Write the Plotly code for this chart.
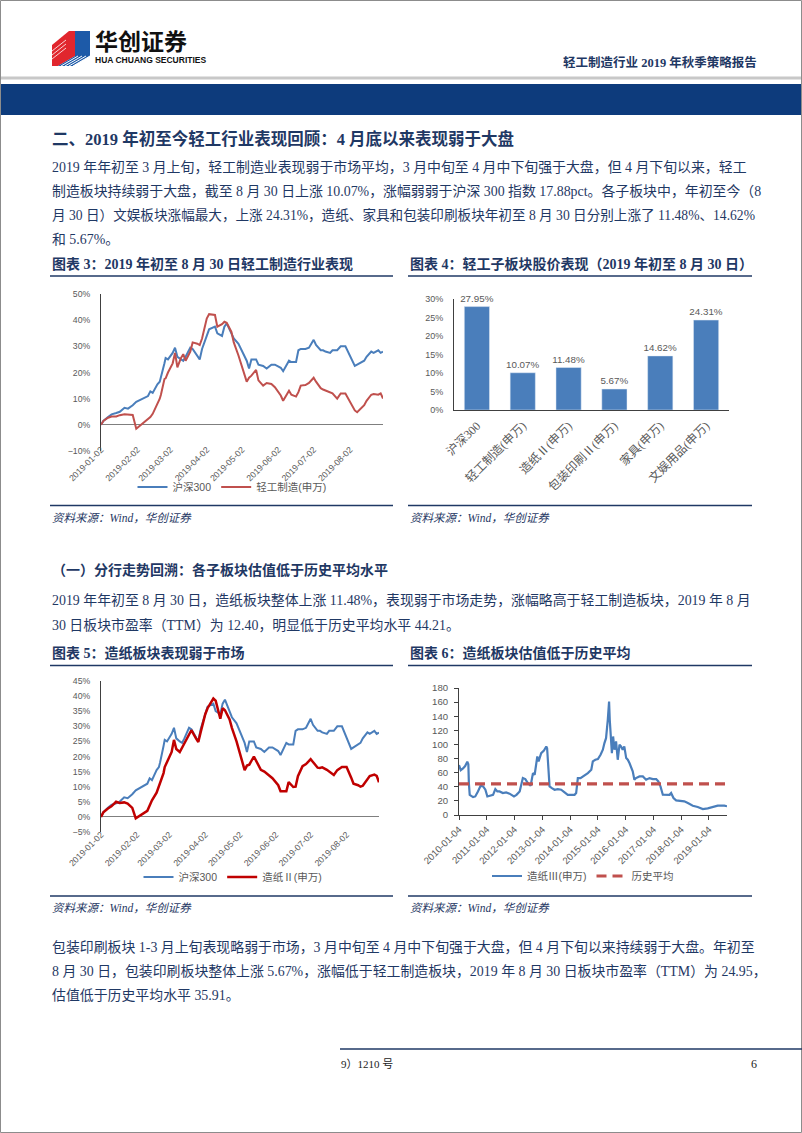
import plotly.graph_objects as go

W, H = 802, 1133

# ---------------- data ----------------
trade_dates = ['2019-01-02', '2019-01-04', '2019-01-08', '2019-01-11', '2019-01-15', '2019-01-18', '2019-01-22',
               '2019-01-25', '2019-01-29', '2019-02-01', '2019-02-11', '2019-02-13', '2019-02-15', '2019-02-19',
               '2019-02-21', '2019-02-22', '2019-02-25', '2019-02-26', '2019-02-28', '2019-03-04', '2019-03-06',
               '2019-03-08', '2019-03-11', '2019-03-13', '2019-03-15', '2019-03-19', '2019-03-21', '2019-03-25',
               '2019-03-27', '2019-03-29', '2019-04-02', '2019-04-04', '2019-04-09', '2019-04-11', '2019-04-15',
               '2019-04-17', '2019-04-19', '2019-04-23', '2019-04-25', '2019-04-29', '2019-05-06', '2019-05-08',
               '2019-05-10', '2019-05-14', '2019-05-16', '2019-05-20', '2019-05-23', '2019-05-27', '2019-05-30',
               '2019-06-04', '2019-06-06', '2019-06-11', '2019-06-13', '2019-06-17', '2019-06-19', '2019-06-21',
               '2019-06-25', '2019-06-28', '2019-07-02', '2019-07-04', '2019-07-08', '2019-07-10', '2019-07-12',
               '2019-07-16', '2019-07-18', '2019-07-22', '2019-07-25', '2019-07-29', '2019-07-31', '2019-08-02',
               '2019-08-06', '2019-08-08', '2019-08-12', '2019-08-14', '2019-08-16', '2019-08-20', '2019-08-22',
               '2019-08-26', '2019-08-28', '2019-08-30']

hs300 = [0, 1.5, 3.0, 4.0, 4.5, 5.0, 6.5, 6.2, 7.5, 8.8,
         11.0, 12.8, 12.2, 15.5, 16.5, 18.0, 23.5, 25.5, 25.0,
         27.5, 29.5, 26.0, 25.0, 24.5, 26.0, 29.5, 29.0, 26.0, 25.0, 29.0,
         34.0, 36.5, 37.5, 35.0, 34.0, 37.5, 38.8, 35.0, 33.0, 31.0,
         24.5, 21.5, 25.0, 25.0, 23.0, 22.5, 21.5, 23.0, 23.0,
         21.8, 20.5, 24.5, 24.0, 24.0, 28.5, 29.0, 29.0, 29.5,
         32.5, 30.5, 28.5, 28.5, 28.0, 27.5, 28.5, 28.5, 30.0, 30.0, 28.0,
         26.5, 22.5, 23.0, 24.0, 24.5, 26.0, 28.0, 27.5, 28.5, 27.5, 27.95]

light_mfg = [0, 1.5, 2.7, 3.2, 3.2, 3.7, 4.0, 3.8, 3.8, -1.5,
             2.0, 3.0, 4.2, 7.8, 10.0, 11.5, 17.5, 17.8, 20.0,
             23.5, 27.5, 22.0, 25.5, 27.0, 24.5, 28.0, 31.5, 31.0, 30.5, 33.0,
             40.6, 42.3, 42.0, 37.5, 38.5, 39.4, 39.0, 35.5, 31.5, 26.5,
             16.5, 18.0, 18.8, 21.0, 17.0, 15.0, 16.0, 15.6, 14.4,
             11.2, 9.2, 13.0, 11.5, 10.8, 12.5, 15.0, 15.2, 16.0,
             18.0, 16.5, 14.0, 13.5, 13.1, 12.4, 12.0, 10.0, 12.0, 12.0, 10.5,
             9.0, 5.5, 4.8, 6.5, 7.5, 9.2, 11.5, 11.8, 11.5, 12.0, 10.07]

paper2 = [0, 1.5, 2.8, 3.5, 5.0, 4.6, 4.8, 4.4, 3.0, -0.5,
          2.0, 4.0, 5.5, 8.0, 10.0, 11.0, 14.5, 16.5, 18.0,
          21.5, 25.5, 22.5, 21.5, 23.0, 24.5, 27.5, 28.7, 26.0, 24.8, 28.0,
          34.0, 36.0, 39.2, 38.5, 32.5, 36.0, 35.3, 32.3, 29.5, 25.0,
          15.5, 17.0, 17.3, 20.0, 18.5, 15.6, 15.0, 13.8, 12.8,
          10.5, 8.5, 8.5, 11.5, 9.9, 10.0, 13.5, 16.8, 17.5,
          19.1, 18.2, 16.3, 16.2, 16.4, 15.6, 15.0, 13.9, 15.5, 16.5, 16.5,
          16.5, 13.0, 11.0, 10.5, 10.0, 10.3, 12.5, 13.5, 14.0, 13.6, 11.48]

sub_sectors = ['沪深300', '轻工制造(申万)', '造纸Ⅱ(申万)', '包装印刷Ⅱ(申万)', '家具(申万)', '文娱用品(申万)']
sub_returns = [27.95, 10.07, 11.48, 5.67, 14.62, 24.31]

pe_dates = ['2010-01-04', '2010-01-27', '2010-02-26', '2010-03-26', '2010-04-23', '2010-05-07', '2010-05-14',
            '2010-05-25', '2010-07-08', '2010-08-06', '2010-09-10', '2010-10-15', '2010-11-17', '2010-12-17',
            '2011-01-12', '2011-02-14', '2011-03-28', '2011-04-27', '2011-05-23', '2011-06-21', '2011-08-04',
            '2011-09-16', '2011-10-31', '2011-12-28',
            '2012-01-30', '2012-03-12', '2012-03-30', '2012-04-23', '2012-05-25', '2012-06-28', '2012-08-03',
            '2012-09-03', '2012-09-25', '2012-10-30', '2012-11-16', '2012-12-20',
            '2013-01-25', '2013-02-25', '2013-03-08', '2013-03-28', '2013-04-09', '2013-05-10', '2013-06-14',
            '2013-07-26', '2013-09-09', '2013-10-24', '2013-12-05',
            '2014-01-20', '2014-03-04', '2014-03-25', '2014-04-16', '2014-05-21', '2014-07-14', '2014-08-26',
            '2014-10-10', '2014-10-30', '2014-12-02',
            '2015-01-05', '2015-02-09', '2015-03-11', '2015-04-01', '2015-04-22', '2015-05-15', '2015-06-01',
            '2015-06-10', '2015-06-19', '2015-07-08', '2015-07-24', '2015-08-11', '2015-09-01', '2015-09-23',
            '2015-10-16', '2015-11-05', '2015-11-27', '2015-12-18',
            '2016-01-12', '2016-02-02', '2016-02-24', '2016-03-17', '2016-04-07', '2016-04-29', '2016-05-20',
            '2016-07-05', '2016-08-18', '2016-09-30', '2016-11-14', '2016-12-28',
            '2017-02-10', '2017-03-10', '2017-04-07', '2017-05-08', '2017-06-20', '2017-08-04', '2017-08-25',
            '2017-09-25', '2017-10-30',
            '2018-01-04', '2018-02-14', '2018-04-02', '2018-06-06', '2018-08-10', '2018-10-16', '2018-12-20',
            '2019-02-25', '2019-04-30', '2019-07-26', '2019-08-30']

pe_paper3 = [70.7, 63.6, 66.0, 69.3, 75.4, 72.0, 45.0, 28.6, 25.4, 26.3, 33.4, 41.4, 40.5, 35.8,
             26.3, 27.3, 28.6, 36.7, 33.4, 33.4, 31.1, 32.0, 30.2, 26.3,
             28.6, 33.4, 40.5, 52.3, 50.9, 45.2, 41.4, 59.4, 57.0, 82.9, 75.9, 87.6,
             91.4, 97.0, 94.7, 49.8, 40.5, 38.1, 35.8, 36.7, 35.8, 32.0, 28.6,
             28.6, 28.6, 31.1, 52.3, 52.3, 55.6, 59.4, 64.1, 75.9, 78.3,
             79.2, 85.4, 92.5, 101.9, 108.9, 134.9, 160.8, 134.9, 111.3, 87.7, 111.3, 92.5, 104.3, 78.3,
             99.6, 97.2, 92.5, 97.2,
             80.7, 78.3, 73.6, 66.5, 61.8, 50.0, 52.3, 54.7, 54.7, 50.0, 52.3, 50.9,
             50.9, 47.6, 40.5, 28.8, 28.6, 28.6, 31.1, 24.0, 20.7,
             19.3, 19.3, 16.9, 13.2, 11.3, 8.5, 9.4,
             11.3, 13.2, 13.2, 12.40]
pe_hist_avg = 44.21

month_ticks = ['2019-01-02', '2019-02-02', '2019-03-02', '2019-04-02',
               '2019-05-02', '2019-06-02', '2019-07-02', '2019-08-02']
year_ticks = ['2010-01-04', '2011-01-04', '2012-01-04', '2013-01-04', '2014-01-04',
              '2015-01-04', '2016-01-04', '2017-01-04', '2018-01-04', '2019-01-04']

# ---------------- styles ----------------
BLUE = '#4a7ebb'
RED = '#c0504d'
DARKRED = '#c00000'
NAVY = '#1f3864'
GRAY = '#595959'
AXIS = '#404040'
SANS = 'Liberation Sans, "Noto Sans CJK SC", sans-serif'
SERIF = 'Liberation Serif, "Noto Sans CJK SC", serif'


def fx(x):
    return x / W


def fy(y):
    return 1 - y / H


fig = go.Figure()

# chart 3
fig.add_trace(go.Scatter(x=trade_dates, y=hs300, mode='lines', name='沪深300',
                         line=dict(color=BLUE, width=2), xaxis='x', yaxis='y', legend='legend'))
fig.add_trace(go.Scatter(x=trade_dates, y=light_mfg, mode='lines', name='轻工制造(申万)',
                         line=dict(color=RED, width=2), xaxis='x', yaxis='y', legend='legend'))
# chart 4
fig.add_trace(go.Bar(x=sub_sectors, y=sub_returns, marker_color=BLUE, width=0.55,
                     texttemplate='%{y:.2f}%', textposition='outside', constraintext='none',
                     textfont=dict(size=9.8, color=GRAY, family=SANS), cliponaxis=False,
                     xaxis='x2', yaxis='y2', showlegend=False))
# chart 5
fig.add_trace(go.Scatter(x=trade_dates, y=hs300, mode='lines', name='沪深300',
                         line=dict(color=BLUE, width=2), xaxis='x3', yaxis='y3', legend='legend2'))
fig.add_trace(go.Scatter(x=trade_dates, y=paper2, mode='lines', name='造纸Ⅱ(申万)',
                         line=dict(color=DARKRED, width=2.5), xaxis='x3', yaxis='y3', legend='legend2'))
# chart 6
fig.add_trace(go.Scatter(x=pe_dates, y=pe_paper3, mode='lines', name='造纸Ⅲ(申万)',
                         line=dict(color=BLUE, width=2.2), xaxis='x4', yaxis='y4', legend='legend3'))
fig.add_trace(go.Scatter(x=pe_dates, y=[pe_hist_avg] * len(pe_dates), mode='lines', name='历史平均',
                         line=dict(color=RED, width=3.2, dash='10px,6px'), xaxis='x4', yaxis='y4',
                         legend='legend3'))

tickf = dict(family=SANS, size=8.7, color=GRAY)
tickf6 = dict(family=SANS, size=9.6, color=GRAY)

fig.update_layout(
    width=W, height=H, margin=dict(l=0, r=0, t=0, b=0, autoexpand=False),
    paper_bgcolor='white', plot_bgcolor='white',
    font=dict(family=SANS, color=GRAY),
    showlegend=True,
    xaxis=dict(domain=[fx(101), fx(383)], anchor='y', type='date', automargin=False,
               range=['2019-01-02', '2019-08-30'], tickvals=month_ticks, ticktext=month_ticks,
               tickangle=-45, showline=False, showgrid=False, zeroline=False, ticks='',
               ticklabelstandoff=-9, tickfont=tickf),
    yaxis=dict(domain=[fy(451), fy(294)], anchor='x', range=[-10, 50], dtick=10, ticksuffix='%',
               automargin=False, showline=True, linecolor=AXIS, linewidth=1, showgrid=False,
               zeroline=True, zerolinecolor='#7f7f7f', zerolinewidth=1.2,
               ticks='', ticklabelstandoff=8, tickfont=tickf),
    xaxis2=dict(domain=[fx(454), fx(729)], anchor='y2', type='category', automargin=False,
                tickangle=-45, showline=True, linecolor=AXIS, linewidth=1, showgrid=False, ticks='',
                ticklabelstandoff=3, tickfont=dict(family=SERIF, size=12, color=GRAY)),
    yaxis2=dict(domain=[fy(410), fy(299)], anchor='x2', range=[0, 30], dtick=5, ticksuffix='%',
                automargin=False, showline=True, linecolor=AXIS, linewidth=1, showgrid=False, zeroline=False,
                ticks='', ticklabelstandoff=8, tickfont=dict(family=SANS, size=9, color=GRAY)),
    xaxis3=dict(domain=[fx(101), fx(379)], anchor='y3', type='date', automargin=False,
                range=['2019-01-02', '2019-08-30'], tickvals=month_ticks, ticktext=month_ticks,
                tickangle=-45, showline=False, showgrid=False, zeroline=False, ticks='',
                ticklabelstandoff=-5, tickfont=tickf),
    yaxis3=dict(domain=[fy(832), fy(681)], anchor='x3', range=[-5, 45], dtick=5, ticksuffix='%',
                automargin=False, showline=True, linecolor=AXIS, linewidth=1, showgrid=False,
                zeroline=True, zerolinecolor='#7f7f7f', zerolinewidth=1.2,
                ticks='', ticklabelstandoff=8, tickfont=tickf),
    xaxis4=dict(domain=[fx(459), fx(727)], anchor='y4', type='date', automargin=False,
                range=['2010-01-04', '2019-08-30'], tickvals=year_ticks, ticktext=year_ticks,
                tickangle=-45, showline=True, linecolor=AXIS, linewidth=1, showgrid=False,
                zeroline=False, ticks='outside', ticklen=4, tickcolor=AXIS, tickfont=tickf6),
    yaxis4=dict(domain=[fy(815), fy(688)], anchor='x4', range=[0, 180], dtick=20, automargin=False,
                showline=True, linecolor=AXIS, linewidth=1, showgrid=False, zeroline=False,
                ticks='outside', ticklen=4, tickcolor=AXIS, ticklabelstandoff=4, tickfont=tickf6),
    legend=dict(x=fx(232), y=fy(487), xanchor='center', yanchor='middle', orientation='h',
                font=dict(family=SANS, size=10.5, color=GRAY), bgcolor='rgba(0,0,0,0)'),
    legend2=dict(x=fx(233), y=fy(877), xanchor='center', yanchor='middle', orientation='h',
                 font=dict(family=SANS, size=10.5, color=GRAY), bgcolor='rgba(0,0,0,0)'),
    legend3=dict(x=fx(583), y=fy(876), xanchor='center', yanchor='middle', orientation='h',
                 font=dict(family=SANS, size=10.5, color=GRAY), bgcolor='rgba(0,0,0,0)'),
)

# ---------------- shapes ----------------
shapes = []


def rect(x0, y0, x1, y1, fill, line=None):
    shapes.append(dict(type='rect', xref='paper', yref='paper', x0=fx(x0), x1=fx(x1), y0=fy(y1), y1=fy(y0),
                       fillcolor=fill, line=dict(width=0) if line is None else line, layer='below'))


def hline(x0, x1, y, color=NAVY, width=1.5):
    shapes.append(dict(type='line', xref='paper', yref='paper', x0=fx(x0), x1=fx(x1), y0=fy(y), y1=fy(y),
                       line=dict(color=color, width=width)))


def poly(points, fill):
    d = 'M ' + ' L '.join(f'{fx(a):.5f},{fy(b):.5f}' for a, b in points) + ' Z'
    shapes.append(dict(type='path', xref='paper', yref='paper', path=d, fillcolor=fill,
                       line=dict(width=0)))


def seg(a, b, color='white', width=1):
    shapes.append(dict(type='line', xref='paper', yref='paper', x0=fx(a[0]), y0=fy(a[1]),
                       x1=fx(b[0]), y1=fy(b[1]), line=dict(color=color, width=width)))


# page border
shapes.append(dict(type='rect', xref='paper', yref='paper', x0=fx(0.5), x1=fx(801.5), y0=fy(1132.5), y1=fy(0.5),
                   line=dict(color='#8c8c8c', width=1), fillcolor='rgba(0,0,0,0)'))
# header band
rect(0, 76.5, 802, 79.5, '#c8c8c8')
rect(0, 84, 802, 115, '#0d3b7c')
# logo
poly([(52, 45), (69, 31), (75, 31), (75, 56), (58, 66), (52, 66)], '#e1262d')
poly([(75, 31), (90, 31), (90, 56), (75, 56)], '#1d5aa8')
poly([(58, 66), (75, 56), (90, 56), (73, 66)], '#1d5aa8')
for k in range(4):
    seg((61 + 4 * k, 66), (78 + 4 * k, 56), 'white', 1)
for k in range(3):
    seg((52, 51 + 4 * k), (66, 40 + 4 * k), 'white', 0.8)
# title rules
for (a, b) in [(50, 393), (408, 752)]:
    hline(a, b, 276)
    hline(a, b, 505.5)
    hline(a, b, 665.5)
    hline(a, b, 896)
hline(340, 802, 1049)
fig.update_layout(shapes=shapes)

# ---------------- text ----------------
ann = []


def txt(x, y, s, size, color=NAVY, family=SERIF, anchor='left'):
    ann.append(dict(xref='paper', yref='paper', x=fx(x), y=fy(y), text=s, showarrow=False,
                    xanchor=anchor, yanchor='middle', borderpad=0,
                    font=dict(size=size, color=color, family=family)))


txt(94, 42, '<b>华创证券</b>', 23, '#111111', SANS)
txt(94, 60, '<b>HUA CHUANG SECURITIES</b>', 8.5, '#111111', 'Liberation Sans Narrow, Liberation Sans, sans-serif')
txt(758, 62, '<b>轻工制造行业 2019 年秋季策略报告</b>', 12.5, NAVY, SERIF, 'right')

txt(51, 139, '<b>二、2019 年初至今轻工行业表现回顾：4 月底以来表现弱于大盘</b>', 16.5)

p1 = ['2019 年年初至 3 月上旬，轻工制造业表现弱于市场平均，3 月中旬至 4 月中下旬强于大盘，但 4 月下旬以来，轻工',
      '制造板块持续弱于大盘，截至 8 月 30 日上涨 10.07%，涨幅弱弱于沪深 300 指数 17.88pct。各子板块中，年初至今（8',
      '月 30 日）文娱板块涨幅最大，上涨 24.31%，造纸、家具和包装印刷板块年初至 8 月 30 日分别上涨了 11.48%、14.62%',
      '和 5.67%。']
for i, s in enumerate(p1):
    txt(51, 167 + 24 * i, s, 13.9 if i != 2 else 13.6)

txt(51, 264, '<b>图表 3：2019 年初至 8 月 30 日轻工制造行业表现</b>', 14)
txt(409, 264, '<b>图表 4：轻工子板块股价表现（2019 年初至 8 月 30 日）</b>', 14)
txt(51, 518, '<i>资料来源：Wind，华创证券</i>', 11.5)
txt(409, 518, '<i>资料来源：Wind，华创证券</i>', 11.5)

txt(51, 570, '<b>（一）分行走势回溯：各子板块估值低于历史平均水平</b>', 14)
p2 = ['2019 年年初至 8 月 30 日，造纸板块整体上涨 11.48%，表现弱于市场走势，涨幅略高于轻工制造板块，2019 年 8 月',
      '30 日板块市盈率（TTM）为 12.40，明显低于历史平均水平 44.21。']
for i, s in enumerate(p2):
    txt(51, 600 + 25 * i, s, 13.9)

txt(51, 653, '<b>图表 5：造纸板块表现弱于市场</b>', 14)
txt(409, 653, '<b>图表 6：造纸板块估值低于历史平均</b>', 14)
txt(51, 908, '<i>资料来源：Wind，华创证券</i>', 11.5)
txt(409, 908, '<i>资料来源：Wind，华创证券</i>', 11.5)

p3 = ['包装印刷板块 1-3 月上旬表现略弱于市场，3 月中旬至 4 月中下旬强于大盘，但 4 月下旬以来持续弱于大盘。年初至',
      '8 月 30 日，包装印刷板块整体上涨 5.67%，涨幅低于轻工制造板块，2019 年 8 月 30 日板块市盈率（TTM）为 24.95，',
      '估值低于历史平均水平 35.91。']
for i, s in enumerate(p3):
    txt(51, 947 + 24 * i, s, 13.9)

txt(340, 1064, '9）1210 号', 11, '#222222')
txt(758, 1064, '6', 12, '#222222', SERIF, 'right')

fig.update_layout(annotations=ann)

fig.write_html('out.html', config={'displayModeBar': False},
               post_script="document.body.style.margin='0';document.body.style.overflow='hidden';")
